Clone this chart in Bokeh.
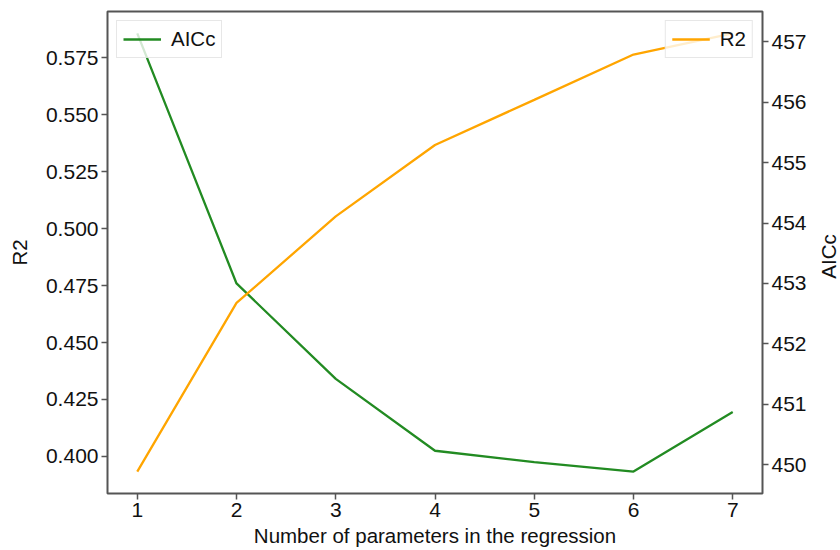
import math
from bokeh.plotting import figure
from bokeh.models import Range1d, LinearAxis, Legend, LegendItem, FixedTicker, NumeralTickFormatter, Label
from bokeh.embed import file_html
from bokeh.resources import INLINE

params = [1, 2, 3, 4, 5, 6, 7]
r2 = [0.3933, 0.4674, 0.5054, 0.5368, 0.5566, 0.5765, 0.5858]
aicc = [457.14, 453.00, 451.42, 450.23, 450.04, 449.885, 450.87]
r2_ticks = [0.400, 0.425, 0.450, 0.475, 0.500, 0.525, 0.550, 0.575]
aicc_ticks = [450, 451, 452, 453, 454, 455, 456, 457]

def padded(vals, frac=0.05):
    lo, hi = min(vals), max(vals)
    m = (hi - lo) * frac
    return lo - m, hi + m

FONT = "Liberation Sans"
AX = "#555555"
FS = "21px"
LFS = "20.5px"

W, H = 840, 550
BL, BR, BT, BB = 107, 78, 11, 57

x0, x1 = padded(params)
y0, y1 = padded(r2)
a0, a1 = padded(aicc)

p = figure(width=W, height=H, output_backend="svg", toolbar_location=None,
           x_range=Range1d(x0, x1), y_range=Range1d(y0, y1),
           min_border_left=BL, min_border_right=BR, min_border_top=BT, min_border_bottom=BB)
p.extra_y_ranges = {"aicc": Range1d(a0, a1)}
p.xgrid.visible = False
p.ygrid.visible = False
p.outline_line_color = AX
p.outline_line_width = 2
p.background_fill_color = "white"
p.border_fill_color = "white"

r_a = p.line(params, aicc, y_range_name="aicc", line_color="#228B22", line_width=2.3)
r_r = p.line(params, r2, line_color="#FFA500", line_width=2.3)

right = LinearAxis(y_range_name="aicc")
p.add_layout(right, "right")

for ax in [p.xaxis[0], p.yaxis[0], right]:
    ax.axis_line_color = None
    ax.major_tick_line_color = AX
    ax.major_tick_line_width = 1.5
    ax.major_tick_out = 6
    ax.major_tick_in = 0
    ax.minor_tick_line_color = None
    ax.major_label_text_font = FONT
    ax.major_label_text_font_size = FS
    ax.major_label_text_color = "#111111"
    ax.major_label_standoff = 3
    ax.axis_label_text_font = FONT
    ax.axis_label_text_font_size = LFS
    ax.axis_label_text_font_style = "normal"
    ax.axis_label_text_color = "#111111"

p.xaxis[0].ticker = FixedTicker(ticks=params)
p.xaxis[0].axis_label = "Number of parameters in the regression"
p.xaxis[0].axis_label_standoff = 4
p.yaxis[0].ticker = FixedTicker(ticks=r2_ticks)
p.yaxis[0].formatter = NumeralTickFormatter(format="0.000")
p.yaxis[0].axis_label = "R2"
p.yaxis[0].axis_label_standoff = 12
right.ticker = FixedTicker(ticks=aicc_ticks)

# right-hand axis title, reading bottom-to-top as in the reference
frame_h = H - BT - BB
p.add_layout(Label(x=19, y=frame_h / 2 - 4, x_units="screen", y_units="screen",
                   text="AICc", angle=math.pi / 2, text_align="center", text_baseline="middle",
                   text_font=FONT, text_font_size=LFS, text_color="#111111"), "right")

def make_legend(items, loc):
    lg = Legend(items=items, location=loc)
    lg.label_text_font = FONT
    lg.label_text_font_size = LFS
    lg.label_text_color = "#111111"
    lg.glyph_width = 38
    lg.glyph_height = 20
    lg.label_height = 20
    lg.label_standoff = 10
    lg.padding = 6
    lg.margin = 9
    lg.border_line_color = "#d0d0d0"
    lg.border_line_width = 1.5
    lg.background_fill_color = "white"
    lg.background_fill_alpha = 0.8
    return lg

p.add_layout(make_legend([LegendItem(label="AICc", renderers=[r_a])], "top_left"))
p.add_layout(make_legend([LegendItem(label="R2", renderers=[r_r])], "top_right"))

open("out.html", "w").write(file_html(p, INLINE))
